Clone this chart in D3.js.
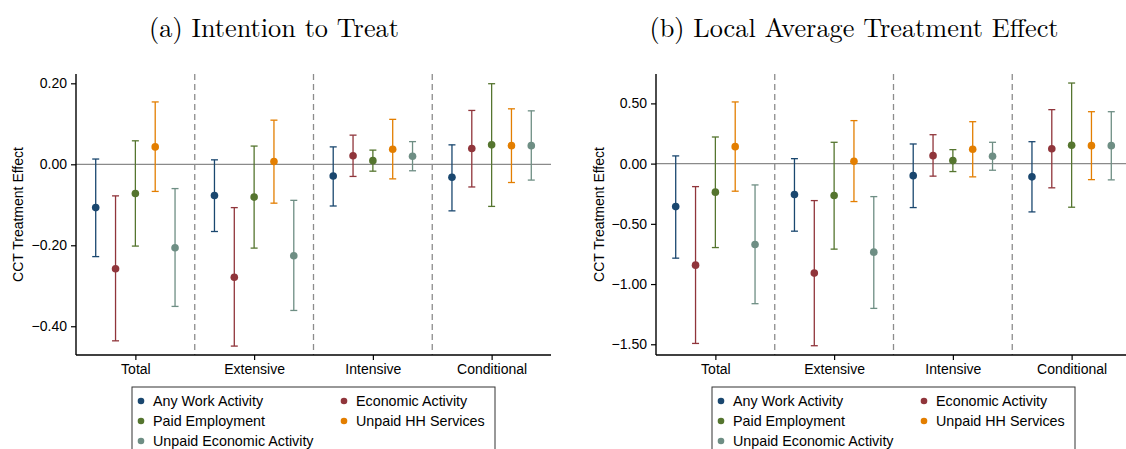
<!DOCTYPE html>
<html>
<head>
<meta charset="utf-8">
<script src="https://cdn.jsdelivr.net/npm/d3@7"></script>
<style>
  body { margin: 0; background: white; }
  svg { display: block; }
</style>
</head>
<body>
<svg id="chart" width="1126" height="449"></svg>
<script>
var categories = ['Total', 'Extensive', 'Intensive', 'Conditional'];
var series = ['Any Work Activity', 'Economic Activity', 'Paid Employment', 'Unpaid HH Services', 'Unpaid Economic Activity'];
var colors = ['#1a476f', '#90353b', '#55752f', '#e37e00', '#6e8e84'];

/* (a) ITT: one row per series, one value per category */
var itt_est = [
  [-0.107, -0.077, -0.029, -0.032],
  [-0.258, -0.279,  0.021,  0.039],
  [-0.072, -0.081,  0.009,  0.048],
  [ 0.043,  0.007,  0.037,  0.046],
  [-0.206, -0.226,  0.020,  0.046]
];
var itt_lo = [
  [-0.228, -0.166, -0.103, -0.115],
  [-0.436, -0.449, -0.030, -0.056],
  [-0.202, -0.207, -0.017, -0.104],
  [-0.067, -0.096, -0.036, -0.045],
  [-0.351, -0.361, -0.016, -0.039]
];
var itt_hi = [
  [ 0.013,  0.011,  0.043,  0.048],
  [-0.078, -0.107,  0.072,  0.133],
  [ 0.058,  0.045,  0.035,  0.199],
  [ 0.154,  0.109,  0.111,  0.137],
  [-0.060, -0.089,  0.056,  0.132]
];
var itt_ticks = [0.2, 0, -0.2, -0.4];

/* (b) LATE */
var late_est = [
  [-0.357, -0.257, -0.100, -0.110],
  [-0.843, -0.909,  0.066,  0.124],
  [-0.237, -0.265,  0.025,  0.153],
  [ 0.141,  0.020,  0.119,  0.149],
  [-0.672, -0.735,  0.061,  0.149]
];
var late_lo = [
  [-0.785, -0.561, -0.365, -0.401],
  [-1.493, -1.512, -0.104, -0.201],
  [-0.697, -0.710, -0.066, -0.362],
  [-0.229, -0.315, -0.110, -0.133],
  [-1.163, -1.202, -0.055, -0.135]
];
var late_hi = [
  [ 0.064,  0.041,  0.163,  0.182],
  [-0.191, -0.307,  0.240,  0.448],
  [ 0.221,  0.177,  0.116,  0.669],
  [ 0.512,  0.357,  0.348,  0.431],
  [-0.177, -0.274,  0.177,  0.431]
];
var late_ticks = [0.5, 0, -0.5, -1.0, -1.5];

var svg = d3.select('#chart');
var sans = 'Liberation Sans, Arial, Helvetica, sans-serif';
var serif = 'Latin Modern Roman, CMU Serif, DejaVu Serif, serif';

function fmt(v){
  var s = d3.format('.2f')(Math.abs(v));
  return (v < 0 ? '\u2212' : '') + s;
}

function drawPanel(opt){
  var g = svg.append('g');
  var top = 74, bottom = 355;

  var x = d3.scaleLinear().domain([0.5, 4.5]).range([opt.left, opt.right]);
  var y = d3.scaleLinear().domain(opt.ydomain).range([bottom, top]);
  var offset = 0.167;

  /* Title */
  g.append('text')
    .attr('x', opt.titleX).attr('y', 37)
    .attr('text-anchor', 'middle')
    .style('font-family', serif).style('font-size', '26.3px')
    .text(opt.title);

  /* dashed separators */
  [1.5, 2.5, 3.5].forEach(function(d){
    g.append('line')
      .attr('x1', x(d)).attr('x2', x(d)).attr('y1', top).attr('y2', bottom)
      .style('stroke', '#8c8c8c').style('stroke-width', 1.3).style('stroke-dasharray', '6,4');
  });

  /* zero line */
  g.append('line')
    .attr('x1', x(0.5)).attr('x2', x(4.5)).attr('y1', y(0)).attr('y2', y(0))
    .style('stroke', '#8a8a8a').style('stroke-width', 1.3);

  /* axes */
  var yAxis = d3.axisLeft(y).tickValues(opt.ticks).tickFormat(fmt).tickSize(5).tickPadding(4);
  var ya = g.append('g').attr('transform', 'translate(' + opt.left + ',0)').call(yAxis);
  ya.select('.domain').attr('d', 'M0,' + top + 'V' + bottom).style('stroke', '#000').style('stroke-width', 1.4);
  ya.selectAll('.tick line').style('stroke-width', 1.2);
  ya.selectAll('text').style('font-family', sans).style('font-size', '14px').style('fill', '#000');

  var xAxis = d3.axisBottom(x).tickValues([1, 2, 3, 4]).tickFormat(function(d){ return categories[d - 1]; }).tickSize(5).tickPadding(4);
  var xa = g.append('g').attr('transform', 'translate(0,' + bottom + ')').call(xAxis);
  xa.select('.domain').attr('d', 'M' + opt.left + ',0H' + opt.right).style('stroke', '#000').style('stroke-width', 1.4);
  xa.selectAll('.tick line').style('stroke-width', 1.2);
  xa.selectAll('text').style('font-family', sans).style('font-size', '14px').style('fill', '#000');

  /* y title */
  g.append('text')
    .attr('transform', 'translate(' + opt.ylabX + ',' + ((top + bottom) / 2) + ') rotate(-90)')
    .attr('text-anchor', 'middle').attr('dy', '0.35em')
    .style('font-family', sans).style('font-size', '14px')
    .text('CCT Treatment Effect');

  /* error bars and points */
  series.forEach(function(s, i){
    var sg = g.append('g');
    categories.forEach(function(c, j){
      var cx = x(j + 1 + (i - 2) * offset);
      var lo = y(opt.lo[i][j]), hi = y(opt.hi[i][j]);
      sg.append('line').attr('x1', cx).attr('x2', cx).attr('y1', lo).attr('y2', hi)
        .style('stroke', colors[i]).style('stroke-width', 1.3);
      [lo, hi].forEach(function(yy){
        sg.append('line').attr('x1', cx - 3.5).attr('x2', cx + 3.5).attr('y1', yy).attr('y2', yy)
          .style('stroke', colors[i]).style('stroke-width', 1.3);
      });
      sg.append('circle').attr('cx', cx).attr('cy', y(opt.est[i][j])).attr('r', 3.8)
        .style('fill', colors[i]);
    });
  });

  /* legend */
  var lx = (opt.left + opt.right) / 2 - 181.5;
  var lg = g.append('g').attr('transform', 'translate(' + lx + ',387)');
  lg.append('rect').attr('width', 363).attr('height', 90)
    .style('fill', 'white').style('stroke', '#333').style('stroke-width', 1);
  series.forEach(function(s, i){
    var col = i % 2, row = Math.floor(i / 2);
    var ix = 9 + col * 203, iy = 14 + row * 20;
    lg.append('circle').attr('cx', ix).attr('cy', iy).attr('r', 3.3).style('fill', colors[i]);
    lg.append('text').attr('x', ix + 12).attr('y', iy).attr('dy', '0.35em')
      .style('font-family', sans).style('font-size', '14.3px').text(s);
  });
}

drawPanel({ title: '(a) Intention to Treat', titleX: 274, left: 76, right: 551, ylabX: 18,
  ydomain: [-0.471, 0.223], ticks: itt_ticks, est: itt_est, lo: itt_lo, hi: itt_hi });
drawPanel({ title: '(b) Local Average Treatment Effect', titleX: 854, left: 656, right: 1131, ylabX: 599,
  ydomain: [-1.589, 0.744], ticks: late_ticks, est: late_est, lo: late_lo, hi: late_hi });
</script>
</body>
</html>
